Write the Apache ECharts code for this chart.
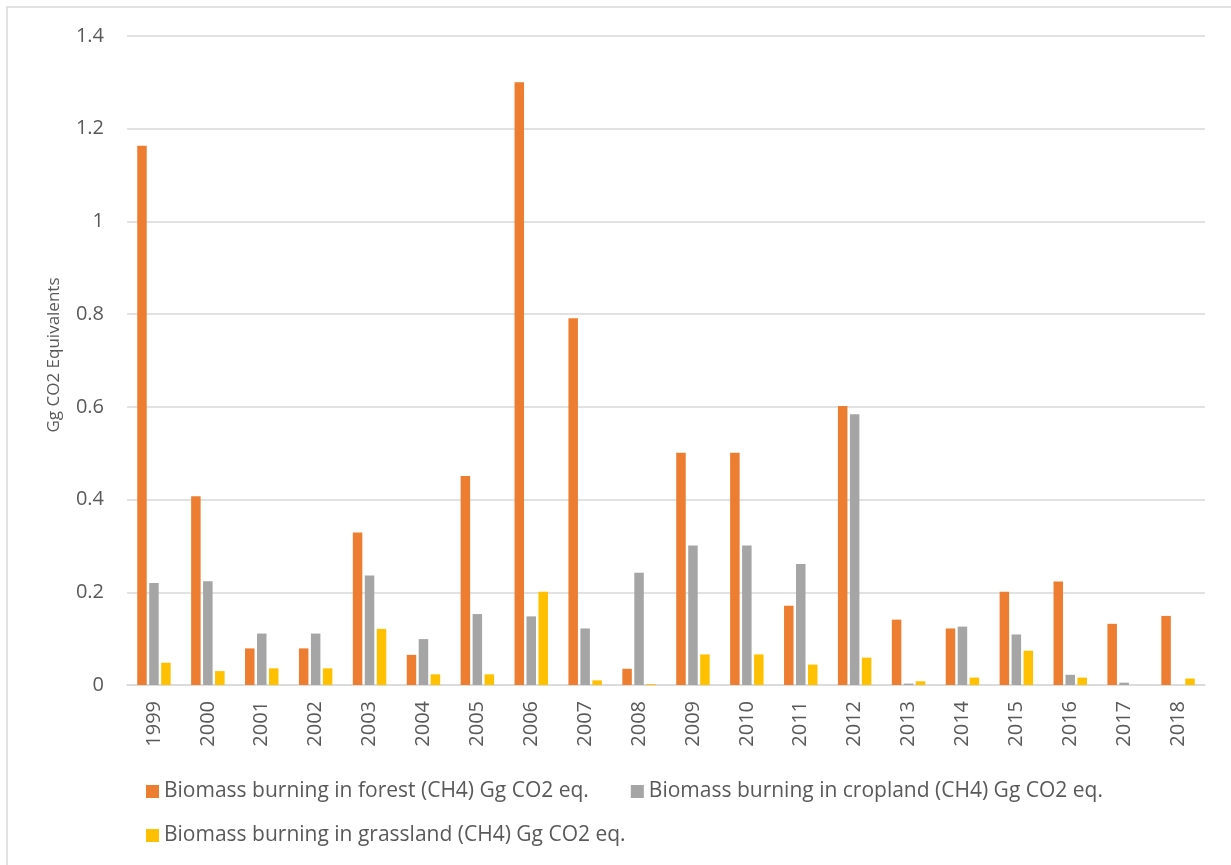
<!DOCTYPE html>
<html>
<head>
<meta charset="utf-8">
<title>Biomass burning CH4 emissions</title>
<script src="https://cdn.jsdelivr.net/npm/echarts@6/dist/echarts.min.js"></script>
<style>
  html, body { margin: 0; padding: 0; background: #ffffff; }
  #chart { width: 1231px; height: 865px; }
</style>
</head>
<body>
<div id="chart"></div>
<script>
// Years on the category axis
const years = ['1999', '2000', '2001', '2002', '2003', '2004', '2005', '2006', '2007', '2008',
               '2009', '2010', '2011', '2012', '2013', '2014', '2015', '2016', '2017', '2018'];

// Emissions, Gg CO2 equivalents
const forest    = [1.163, 0.407, 0.079, 0.079, 0.329, 0.065, 0.451, 1.300, 0.791, 0.035,
                   0.501, 0.501, 0.171, 0.602, 0.141, 0.122, 0.201, 0.223, 0.132, 0.149];
const cropland  = [0.220, 0.224, 0.111, 0.111, 0.236, 0.099, 0.153, 0.148, 0.122, 0.242,
                   0.301, 0.301, 0.261, 0.584, 0.003, 0.126, 0.109, 0.022, 0.005, 0.000];
const grassland = [0.048, 0.030, 0.036, 0.036, 0.121, 0.023, 0.023, 0.201, 0.010, 0.002,
                   0.066, 0.066, 0.044, 0.059, 0.008, 0.016, 0.074, 0.016, 0.000, 0.014];

const seriesNames = [
  'Biomass burning in forest (CH4) Gg CO2 eq.',
  'Biomass burning in cropland (CH4) Gg CO2 eq.',
  'Biomass burning in grassland (CH4) Gg CO2 eq.'
];
const yAxisTitle = 'Gg CO2 Equivalents';

const FONT = '"Open Sans", "Noto Sans", sans-serif';
const TEXT_COLOR = '#595959';
const GRID_COLOR = '#d9d9d9';

const chart = echarts.init(document.getElementById('chart'), null, { renderer: 'canvas' });

function barSeries(name, data, color) {
  return {
    name: name,
    type: 'bar',
    data: data,
    barWidth: 9.5,
    barGap: '26%',
    itemStyle: { color: color },
    emphasis: { disabled: true }
  };
}

const legendText = { fontFamily: FONT, fontSize: 21, color: TEXT_COLOR };

chart.setOption({
  animation: false,
  backgroundColor: '#ffffff',
  color: ['#ED7D31', '#A5A5A5', '#FFC000'],
  grid: { left: 127, right: 26, top: 36, bottom: 180, containLabel: false },
  legend: [
    {
      data: [seriesNames[0], seriesNames[1]],
      left: 141, top: 776,
      itemWidth: 13, itemHeight: 13, itemGap: 42,
      icon: 'rect',
      textStyle: legendText,
      selectedMode: false
    },
    {
      data: [seriesNames[2]],
      left: 141, top: 820,
      itemWidth: 13, itemHeight: 13,
      icon: 'rect',
      textStyle: legendText,
      selectedMode: false
    }
  ],
  xAxis: {
    type: 'category',
    data: years,
    axisLine: { lineStyle: { color: GRID_COLOR, width: 1.5 } },
    axisTick: { show: false },
    axisLabel: {
      rotate: 90,
      margin: 16,
      fontFamily: FONT,
      fontSize: 20,
      color: TEXT_COLOR,
      interval: 0
    }
  },
  yAxis: {
    type: 'value',
    min: 0,
    max: 1.4,
    interval: 0.2,
    axisLine: { show: false },
    axisTick: { show: false },
    splitLine: { lineStyle: { color: GRID_COLOR, width: 1.5 } },
    axisLabel: {
      margin: 23,
      fontFamily: FONT,
      fontSize: 20,
      color: TEXT_COLOR
    }
  },
  graphic: [
    {
      type: 'rect',
      shape: { x: 7, y: 7, width: 1300, height: 900 },
      style: { fill: 'none', stroke: GRID_COLOR, lineWidth: 1.5 },
      silent: true
    },
    {
      type: 'text',
      x: 54, y: 355,
      rotation: Math.PI / 2,
      style: {
        text: yAxisTitle,
        fontFamily: FONT,
        fontSize: 17,
        fill: TEXT_COLOR,
        align: 'center',
        verticalAlign: 'middle'
      },
      silent: true
    }
  ],
  series: [
    barSeries(seriesNames[0], forest, '#ED7D31'),
    barSeries(seriesNames[1], cropland, '#A5A5A5'),
    barSeries(seriesNames[2], grassland, '#FFC000')
  ]
});
</script>
</body>
</html>
